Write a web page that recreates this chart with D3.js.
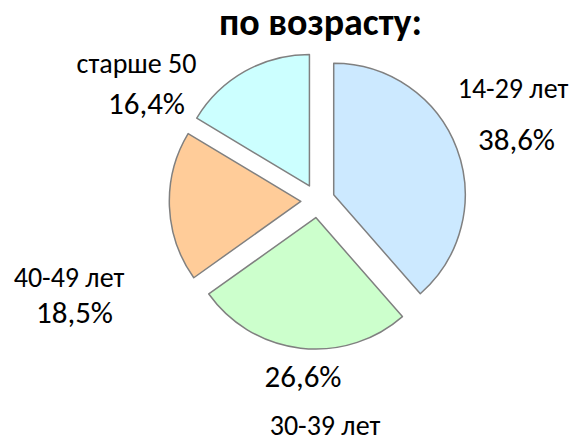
<!DOCTYPE html>
<html>
<head>
<meta charset="utf-8">
<script src="https://cdn.jsdelivr.net/npm/d3@7"></script>
<style>
  html, body { margin: 0; padding: 0; background: #ffffff; }
  svg { display: block; }
  text { font-family: Carlito, Lato, "Open Sans", sans-serif; fill: #000; }
</style>
</head>
<body>
<svg id="chart" width="573" height="442"></svg>
<script>
// ---- data ----
const categories = ["14-29 лет", "30-39 лет", "40-49 лет", "старше 50"];
const values = [38.6, 26.6, 18.5, 16.4];
const percentLabels = ["38,6%", "26,6%", "18,5%", "16,4%"];
const colors = ["#cce9ff", "#ccffcc", "#ffcc99", "#ccffff"];
const title = "по возрасту:";

// ---- layout ----
const W = 573, H = 442;
const cx = 317.8, cy = 200.7, radius = 131.5, explode = 17;
// label anchors (name, percent) for each slice
const nameLabelPos = [[513, 98], [325, 435], [69, 287], [136.5, 73]];
const pctLabelPos  = [[516.5, 150], [303, 387], [74.5, 323], [146.5, 114]];

const svg = d3.select("#chart");

svg.append("text")
  .attr("x", 320.5).attr("y", 35)
  .attr("text-anchor", "middle")
  .attr("font-size", 38).attr("font-weight", "bold")
  .text(title);

const pie = d3.pie().sort(null).value(d => d).startAngle(0).endAngle(2 * Math.PI);
const arcs = pie(values);
const arc = d3.arc().innerRadius(0).outerRadius(radius);

const g = svg.append("g").attr("transform", `translate(${cx},${cy})`);
g.selectAll("path.slice")
  .data(arcs)
  .join("path")
  .attr("class", "slice")
  .attr("transform", d => {
    const m = (d.startAngle + d.endAngle) / 2;
    return `translate(${explode * Math.sin(m)},${-explode * Math.cos(m)})`;
  })
  .attr("d", arc)
  .attr("fill", (d, i) => colors[i])
  .attr("stroke", "#808080")
  .attr("stroke-width", 1.5)
  .attr("stroke-linejoin", "round");

svg.selectAll("text.name")
  .data(categories)
  .join("text")
  .attr("class", "name")
  .attr("x", (d, i) => nameLabelPos[i][0])
  .attr("y", (d, i) => nameLabelPos[i][1])
  .attr("text-anchor", "middle")
  .attr("font-size", 28)
  .text(d => d);

svg.selectAll("text.pct")
  .data(percentLabels)
  .join("text")
  .attr("class", "pct")
  .attr("x", (d, i) => pctLabelPos[i][0])
  .attr("y", (d, i) => pctLabelPos[i][1])
  .attr("text-anchor", "middle")
  .attr("font-size", 31)
  .text(d => d);
</script>
</body>
</html>
